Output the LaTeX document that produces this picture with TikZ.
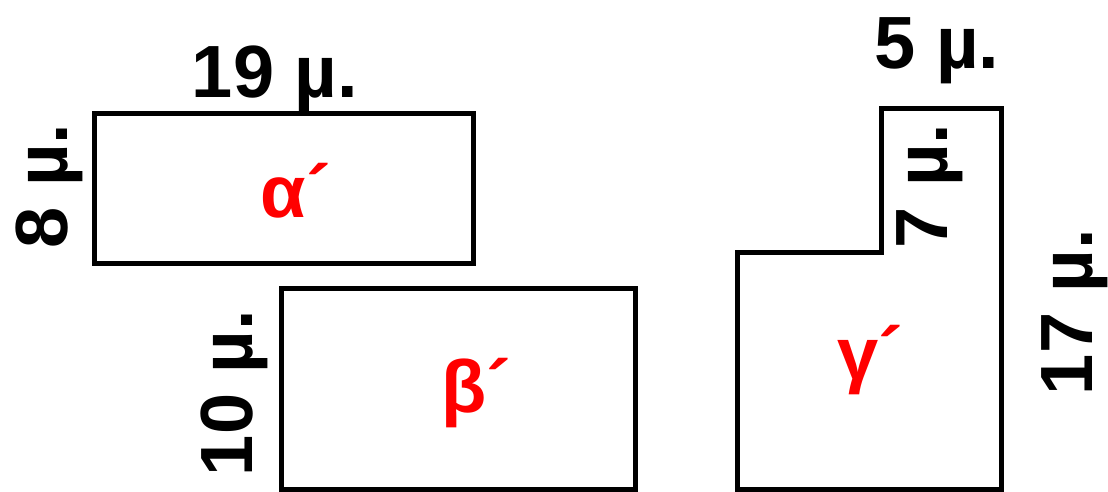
\documentclass[tikz,border=0pt]{standalone}
\usepackage{fontspec}
\setmainfont{Liberation Sans}
\begin{document}
\begin{tikzpicture}[x=1pt,y=-1pt,
  shapeline/.style={draw=black,line width=5pt},
  dimlabel/.style={inner sep=0pt,anchor=base,font=\fontsize{74}{80}\selectfont\bfseries},
  dimlabelv/.style={dimlabel,rotate=90},
  namelabel/.style={inner sep=0pt,anchor=base,text=red,font=\fontsize{74}{80}\selectfont\bfseries}]
\useasboundingbox (0,0) rectangle (1108,491);
% alpha rectangle
\draw[shapeline] (94.5,113) rectangle (473,263.5);
% beta rectangle
\draw[shapeline] (281,288) rectangle (635,489);
% gamma shape
\draw[shapeline] (737.5,489) -- (737.5,252) -- (881,252) -- (881,108.5) -- (1001,108.5) -- (1001,489) -- cycle;
% labels
\node[dimlabel] (l19) at (275,97) {19 µ.};
\node[dimlabelv] (l8) at (67,186) {8 µ.};
\node[dimlabelv] (l10) at (252,393) {10 µ.};
\node[dimlabel] (l5) at (937,68) {5 µ.};
\node[dimlabelv] (l7) at (947.5,186) {7 µ.};
\node[dimlabelv] (l17) at (1092,312) {17 µ.};
\node[namelabel] (na) at (296,217) {α´};
\node[namelabel] (nb) at (476,412) {β´};
\node[namelabel] (ng) at (870,379) {γ´};
\end{tikzpicture}
\end{document}
